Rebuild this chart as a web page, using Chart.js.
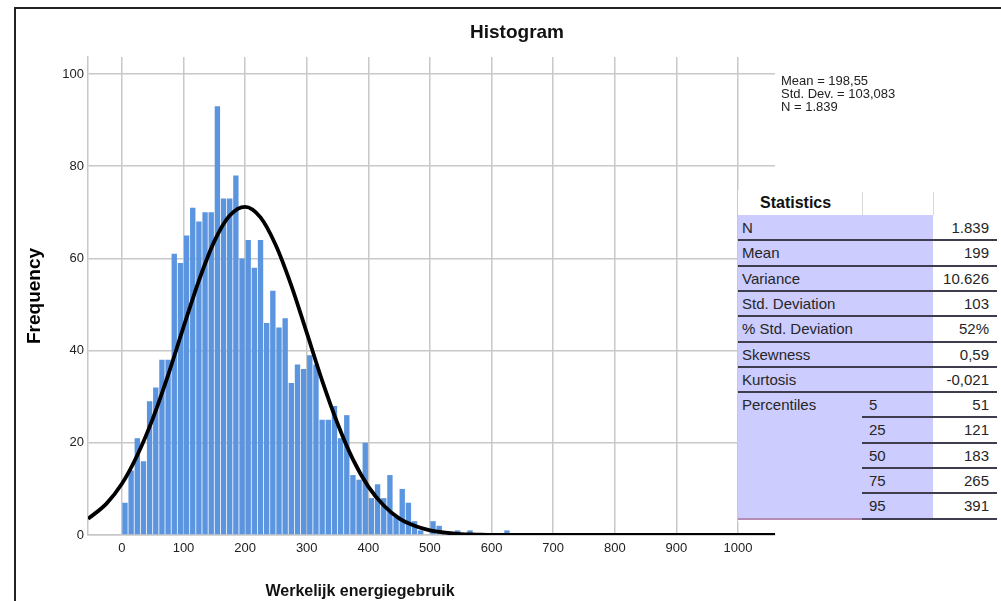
<!DOCTYPE html>
<html>
<head>
<meta charset="utf-8">
<title>Histogram</title>
<script src="https://cdn.jsdelivr.net/npm/chart.js@4.4.1/dist/chart.umd.min.js"></script>
<style>
  html, body { margin: 0; padding: 0; background: #fff; }
  #wrap { position: relative; width: 1001px; height: 601px; overflow: hidden; font-family: "Liberation Sans", Arial, sans-serif; }
  #chart { position: absolute; left: 0; top: 0; }
  #frame { position: absolute; left: 14px; top: 7px; width: 1000px; height: 600px; border-left: 2px solid #222; border-top: 2px solid #222; pointer-events: none; }
  #stats { position: absolute; left: 738px; top: 190px; width: 259px; height: 332px; background: #fff; color: #262626; font-size: 15px; }
  #stats div { position: absolute; white-space: nowrap; box-sizing: border-box; }
  #stats .lav { background: #ccccff; }
  #stats .line { background: #3d3d4d; }
  #stats .mauve { background: #b48cb4; }
  #stats .vline { background: #d8d8d8; }
  #stats .lab { padding-left: 4px; }
  #stats .sub { padding-left: 7px; }
  #stats .val { text-align: right; padding-right: 8px; }
  #stats .head { font-weight: bold; font-size: 16px; color: #111; }
</style>
</head>
<body>
<div id="wrap">
  <canvas id="chart" width="1001" height="601"></canvas>
  <div id="stats"></div>
  <div id="frame"></div>
</div>
<script>
// histogram bins (lower bound, width 10) and frequencies
const binStart = [0, 10, 20, 30, 40, 50, 60, 70, 80, 90,
  100, 110, 120, 130, 140, 150, 160, 170, 180, 190,
  200, 210, 220, 230, 240, 250, 260, 270, 280, 290,
  300, 310, 320, 330, 340, 350, 360, 370, 380, 390,
  400, 410, 420, 430, 440, 450, 460, 470, 480, 490,
  500, 510, 520, 530, 540, 550, 560, 570, 580, 590,
  600, 610, 620];
const counts = [7, 14, 21, 16, 29, 32, 38, 38, 61, 59,
  65, 71, 68, 70, 70, 93, 73, 73, 78, 60,
  64, 58, 64, 46, 53, 45, 47, 33, 37, 36,
  39, 37, 25, 25, 28, 21, 26, 13, 12, 20,
  8, 11, 8, 13, 4, 10, 7, 3, 1, 0,
  3, 2, 0, 0, 1, 0, 1, 0, 0, 0,
  0, 0, 1];

// normal curve
const curveX = [-55, -25, 0, 25, 50, 75, 100, 125, 150, 175, 200, 225, 250, 275, 300,
  325, 350, 375, 400, 425, 450, 475, 500, 525, 550, 575, 600, 700, 800, 900, 1000, 1060];
const curveY = [3.5, 6.8, 11.1, 17.3, 25.2, 34.7, 45.1, 55.2, 63.7, 69.3, 71.2, 68.9, 62.8, 54.1, 43.9,
  33.5, 24.2, 16.4, 10.5, 6.4, 3.6, 2.0, 1.0, 0.5, 0.2, 0.1, 0, 0, 0, 0, 0, 0];

const chartTitle = 'Histogram';
const xTitle = 'Werkelijk energiegebruik';
const yTitle = 'Frequency';
const fitLines = ['Mean = 198,55', 'Std. Dev. = 103,083', 'N = 1.839'];

// statistics table
const statLabels = ['N', 'Mean', 'Variance', 'Std. Deviation', '% Std. Deviation', 'Skewness', 'Kurtosis'];
const statValues = ['1.839', '199', '10.626', '103', '52%', '0,59', '-0,021'];
const pctLevels = ['5', '25', '50', '75', '95'];
const pctValues = ['51', '121', '183', '265', '391'];

// build the table
const tbl = document.getElementById('stats');
const HEAD = 25, ROWH = 25.3, COL1 = 124, COL2 = 195, TW = 259;
function box(cls, x, y, w, h, text) {
  const d = document.createElement('div');
  d.className = cls;
  d.style.left = x + 'px';
  d.style.top = y + 'px';
  d.style.width = w + 'px';
  d.style.height = h + 'px';
  d.style.lineHeight = h + 'px';
  if (text !== undefined) d.textContent = text;
  tbl.appendChild(d);
}
box('vline', COL1, 2, 1, HEAD - 2);
box('vline', COL2, 2, 1, HEAD - 2);
box('head', 22, 0, 100, HEAD, 'Statistics');
box('lav', 0, HEAD, COL2, (statLabels.length + pctLevels.length) * ROWH);
statLabels.forEach((lab, r) => {
  const y = HEAD + r * ROWH;
  box('lab', 0, y, COL2, ROWH, lab);
  box('val', COL2, y, TW - COL2, ROWH, statValues[r]);
  box('line', 0, y + ROWH - 1, TW, 2);
});
pctLevels.forEach((lev, i) => {
  const r = statLabels.length + i;
  const y = HEAD + r * ROWH;
  if (i === 0) box('lab', 0, y, COL1, ROWH, 'Percentiles');
  box('sub', COL1, y, COL2 - COL1, ROWH, lev);
  box('val', COL2, y, TW - COL2, ROWH, pctValues[i]);
  box('line', COL1, y + ROWH - 1, TW - COL1, 2);
  if (i === pctLevels.length - 1) box('mauve', 0, y + ROWH - 1, COL1, 2);
});

// extra texts drawn on the canvas
const textPlugin = {
  id: 'extraText',
  afterDraw(chart) {
    const ctx = chart.ctx;
    ctx.save();
    ctx.fillStyle = '#111';
    ctx.textBaseline = 'middle';
    ctx.textAlign = 'center';
    ctx.font = 'bold 19px "Liberation Sans", Arial, sans-serif';
    ctx.fillText(chartTitle, 517, 33);
    ctx.font = 'bold 16px "Liberation Sans", Arial, sans-serif';
    ctx.fillText(xTitle, 360, 592);
    ctx.textAlign = 'left';
    ctx.fillStyle = '#222';
    ctx.font = '13px "Liberation Sans", Arial, sans-serif';
    fitLines.forEach((t, i) => ctx.fillText(t, 781, 81 + i * 13));
    ctx.restore();
  }
};

const gridColor = 'rgb(200,200,200)';

new Chart('chart', {
  data: {
    datasets: [{
      type: 'line',
      label: 'Normal',
      data: curveX.map((x, i) => ({ x: x, y: curveY[i] })),
      borderColor: '#000',
      borderWidth: 3.8,
      pointRadius: 0,
      cubicInterpolationMode: 'monotone',
      fill: false,
      order: 0
    }, {
      type: 'bar',
      label: 'Frequency',
      data: binStart.map((b, i) => ({ x: b + 5, y: counts[i] })),
      backgroundColor: '#5b95e0',
      borderWidth: 0,
      barPercentage: 0.87,
      categoryPercentage: 1,
      grouped: false,
      order: 1
    }]
  },
  options: {
    responsive: false,
    animation: false,
    layout: { padding: { top: 57, right: 226, left: 0, bottom: 0 } },
    plugins: {
      legend: { display: false },
      title: { display: false },
      tooltip: { enabled: false }
    },
    scales: {
      x: {
        type: 'linear',
        min: -55,
        max: 1060,
        offset: false,
        afterFit(s) { s.height = 66; },
        grid: { color: gridColor, lineWidth: 1.5, drawTicks: false, offset: false },
        border: { display: true, color: gridColor, width: 1.5 },
        ticks: {
          stepSize: 100,
          includeBounds: false,
          padding: 6,
          color: '#222',
          font: { family: '"Liberation Sans", Arial, sans-serif', size: 13 },
          callback: v => String(v)
        }
      },
      y: {
        min: 0,
        max: 103.7,
        afterFit(s) { s.width = 88; },
        grid: { color: gridColor, lineWidth: 1.5, drawTicks: false },
        border: { display: true, color: gridColor, width: 1.5 },
        ticks: {
          stepSize: 20,
          includeBounds: false,
          padding: 4,
          color: '#222',
          font: { family: '"Liberation Sans", Arial, sans-serif', size: 13 }
        },
        title: {
          display: true,
          text: yTitle,
          color: '#000',
          padding: { top: 23, bottom: 0 },
          font: { family: '"Liberation Sans", Arial, sans-serif', size: 19, weight: 'bold' }
        }
      }
    }
  },
  plugins: [textPlugin]
});
</script>
</body>
</html>
